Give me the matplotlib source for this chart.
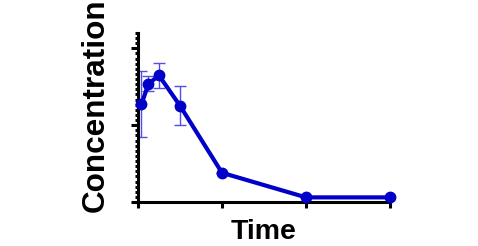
import matplotlib
matplotlib.use("Agg")
import matplotlib.pyplot as plt
from matplotlib.ticker import MultipleLocator, NullFormatter

# data
time = [0.5, 1.5, 3, 6, 12, 24, 36]
conc = [19.1, 23.1, 24.7, 18.8, 5.7, 0.9, 0.9]
conc_err = [6.5, 1.5, 2.4, 3.8, 0, 0, 0]

plt.rcParams["font.family"] = ["Liberation Sans", "DejaVu Sans"]

fig = plt.figure(figsize=(4.78, 2.46), dpi=100)
ax = fig.add_axes([0.2887, 0.1789, 0.5272, 0.687])

ax.errorbar(time, conc, yerr=conc_err, fmt="none", ecolor="#5050e6",
            elinewidth=1, capsize=4, capthick=1, zorder=2)
ax.plot(time, conc, "-o", color="#0000c8", linewidth=3, markersize=7.5,
        zorder=3, clip_on=False)

ax.set_xlim(0, 36)
ax.set_ylim(0, 33)
ax.xaxis.set_major_locator(MultipleLocator(12))
ax.yaxis.set_major_locator(MultipleLocator(15))
ax.yaxis.set_minor_locator(MultipleLocator(1))
ax.xaxis.set_major_formatter(NullFormatter())
ax.yaxis.set_major_formatter(NullFormatter())

for side in ["top", "right"]:
    ax.spines[side].set_visible(False)
for side in ["left", "bottom"]:
    ax.spines[side].set_linewidth(2.2)

ax.tick_params(axis="y", which="major", length=5, width=2.2, direction="out")
ax.tick_params(axis="y", which="minor", length=2.5, width=2.2, direction="out")
ax.tick_params(axis="x", which="major", length=4.5, width=2.2, direction="out")

ax.set_ylabel("Concentration", fontsize=22.7, fontweight="bold")
ax.set_xlabel("Time", fontsize=20.5, fontweight="bold")
ax.yaxis.set_label_coords(-0.108, 0.57)
ax.xaxis.set_label_coords(0.5, -0.1)

fig.savefig("out.png", dpi=100)
